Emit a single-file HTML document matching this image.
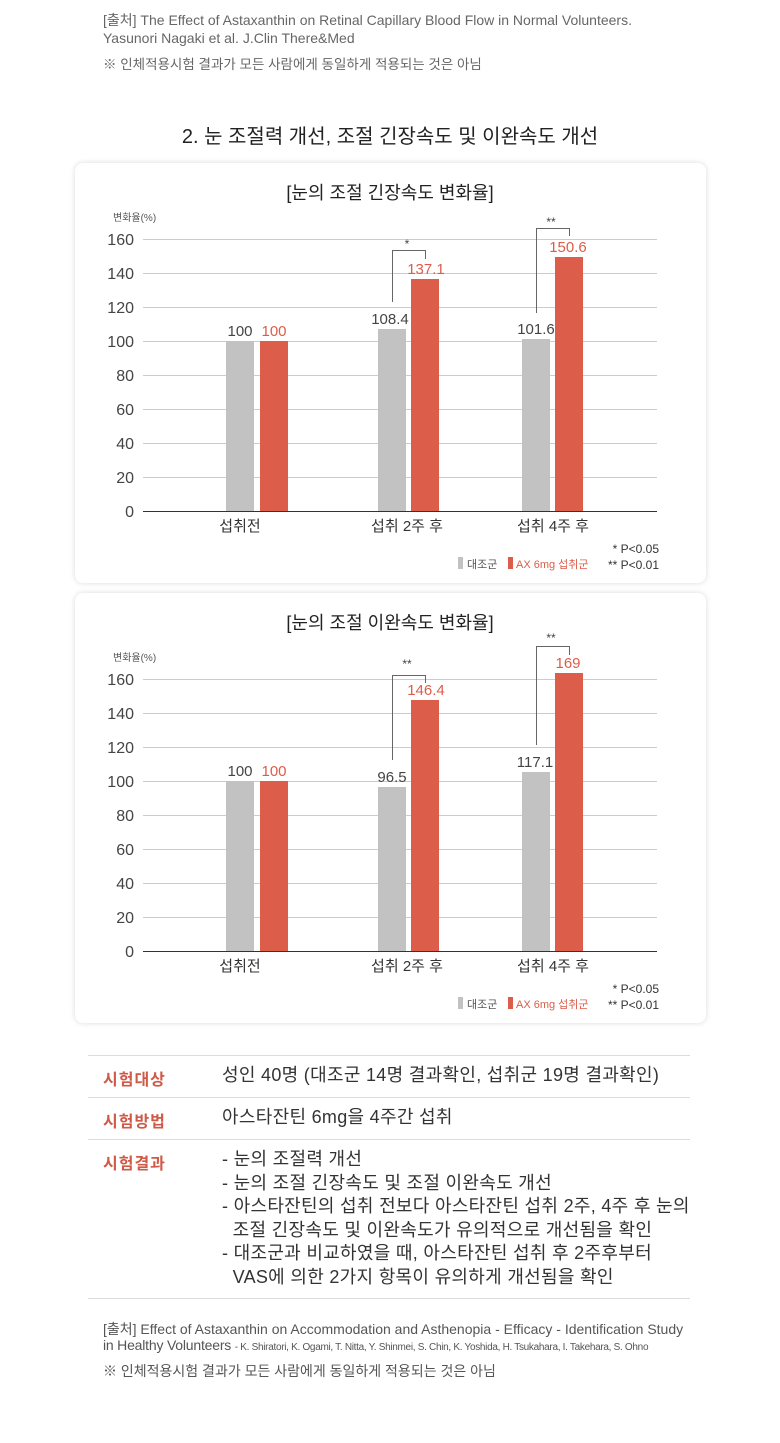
<!DOCTYPE html>
<html><head><meta charset="utf-8"><style>
body{margin:0;background:#fff;width:780px;height:1443px;position:relative;overflow:hidden;font-family:"Liberation Sans","Noto Sans CJK KR",sans-serif;color:#333}
.a{position:absolute;white-space:nowrap}
.card{position:absolute;left:75px;width:631px;background:#fff;border-radius:8px;box-shadow:0 0 6px rgba(0,0,0,0.15)}
.lbl{position:absolute;left:103px;color:#cf5a48;font-size:16px;font-weight:bold;letter-spacing:1px}
.val{position:absolute;left:222px;font-size:18px;letter-spacing:0.3px;color:#333;line-height:23.5px}
.hr{position:absolute;left:88px;width:602px;height:1px;background:#ddd}
</style></head><body>
<div class="a" style="left:103px;top:11px;font-size:14px;color:#666;line-height:18px">[출처] The Effect of Astaxanthin on Retinal Capillary Blood Flow in Normal Volunteers.<br>Yasunori Nagaki et al. J.Clin There&amp;Med</div>
<div class="a" style="left:103px;top:53px;font-size:13.5px;color:#666">※ 인체적용시험 결과가 모든 사람에게 동일하게 적용되는 것은 아님</div>
<div class="a" style="left:0;width:780px;text-align:center;top:120px;font-size:20px;color:#222">2. 눈 조절력 개선, 조절 긴장속도 및 이완속도 개선</div>

<div class="card" style="top:163px;height:420px"></div>
<div class="card" style="top:593px;height:430px"></div>

<svg class="a" style="left:0;top:0" width="780" height="1040" font-family="Liberation Sans, Noto Sans CJK KR, sans-serif">
<g id="c1">
<text x="390" y="199" text-anchor="middle" font-size="18" fill="#222">[눈의 조절 긴장속도 변화율]</text>
<text x="113" y="221" font-size="10" fill="#555">변화율(%)</text>
<g stroke="#ccc" stroke-width="1">
<line x1="143" x2="657" y1="239.5" y2="239.5"/><line x1="143" x2="657" y1="273.5" y2="273.5"/><line x1="143" x2="657" y1="307.5" y2="307.5"/><line x1="143" x2="657" y1="341.5" y2="341.5"/><line x1="143" x2="657" y1="375.5" y2="375.5"/><line x1="143" x2="657" y1="409.5" y2="409.5"/><line x1="143" x2="657" y1="443.5" y2="443.5"/><line x1="143" x2="657" y1="477.5" y2="477.5"/></g>
<g font-size="16" fill="#444" text-anchor="end"><text x="134" y="245">160</text><text x="134" y="279">140</text><text x="134" y="313">120</text><text x="134" y="347">100</text><text x="134" y="381">80</text><text x="134" y="415">60</text><text x="134" y="449">40</text><text x="134" y="483">20</text><text x="134" y="517">0</text></g>
<rect x="226" y="341" width="28" height="170" fill="#c2c2c2"/><rect x="260" y="341" width="28" height="170" fill="#dc5d49"/>
<rect x="378" y="329" width="28" height="182" fill="#c2c2c2"/><rect x="411" y="279" width="28" height="232" fill="#dc5d49"/>
<rect x="522" y="339" width="28" height="172" fill="#c2c2c2"/><rect x="555" y="257" width="28" height="254" fill="#dc5d49"/>
<line x1="143" x2="657" y1="511.5" y2="511.5" stroke="#333"/>
<g font-size="15"><text x="240" y="336" text-anchor="middle" fill="#444">100</text><text x="274" y="336" text-anchor="middle" fill="#dc5d49">100</text>
<text x="390" y="324" text-anchor="middle" fill="#444">108.4</text><text x="426" y="274" text-anchor="middle" fill="#dc5d49">137.1</text>
<text x="536" y="334" text-anchor="middle" fill="#444">101.6</text><text x="568" y="252" text-anchor="middle" fill="#dc5d49">150.6</text></g>
<polyline points="392.5,302 392.5,250.5 425.5,250.5 425.5,259" fill="none" stroke="#666"/>
<polyline points="536.5,313 536.5,228.5 569.5,228.5 569.5,236" fill="none" stroke="#666"/>
<text x="407" y="248" text-anchor="middle" font-size="12" fill="#444">*</text><text x="551" y="226" text-anchor="middle" font-size="12" fill="#444">**</text>
<g font-size="15" fill="#333" text-anchor="middle"><text x="240" y="531">섭취전</text><text x="407" y="531">섭취 2주 후</text><text x="553" y="531">섭취 4주 후</text></g>
<rect x="458" y="557" width="5" height="12" fill="#c2c2c2"/><text x="467" y="568" font-size="11" fill="#555">대조군</text>
<rect x="508" y="557" width="5" height="12" fill="#dc5d49"/><text x="516" y="568" font-size="11" fill="#dc5d49">AX 6mg 섭취군</text>
<text x="659" y="553" text-anchor="end" font-size="12" fill="#333">* P&lt;0.05</text><text x="659" y="569" text-anchor="end" font-size="12" fill="#333">** P&lt;0.01</text>
</g>
<g>
<text x="390" y="629" text-anchor="middle" font-size="18" fill="#222">[눈의 조절 이완속도 변화율]</text>
<text x="113" y="661" font-size="10" fill="#555">변화율(%)</text>
<g stroke="#ccc" stroke-width="1">
<line x1="143" x2="657" y1="679.5" y2="679.5"/><line x1="143" x2="657" y1="713.5" y2="713.5"/><line x1="143" x2="657" y1="747.5" y2="747.5"/><line x1="143" x2="657" y1="781.5" y2="781.5"/><line x1="143" x2="657" y1="815.5" y2="815.5"/><line x1="143" x2="657" y1="849.5" y2="849.5"/><line x1="143" x2="657" y1="883.5" y2="883.5"/><line x1="143" x2="657" y1="917.5" y2="917.5"/></g>
<g font-size="16" fill="#444" text-anchor="end"><text x="134" y="685">160</text><text x="134" y="719">140</text><text x="134" y="753">120</text><text x="134" y="787">100</text><text x="134" y="821">80</text><text x="134" y="855">60</text><text x="134" y="889">40</text><text x="134" y="923">20</text><text x="134" y="957">0</text></g>
<rect x="226" y="781" width="28" height="170" fill="#c2c2c2"/><rect x="260" y="781" width="28" height="170" fill="#dc5d49"/>
<rect x="378" y="787" width="28" height="164" fill="#c2c2c2"/><rect x="411" y="700" width="28" height="251" fill="#dc5d49"/>
<rect x="522" y="772" width="28" height="179" fill="#c2c2c2"/><rect x="555" y="673" width="28" height="278" fill="#dc5d49"/>
<line x1="143" x2="657" y1="951.5" y2="951.5" stroke="#333"/>
<g font-size="15"><text x="240" y="776" text-anchor="middle" fill="#444">100</text><text x="274" y="776" text-anchor="middle" fill="#dc5d49">100</text>
<text x="392" y="782" text-anchor="middle" fill="#444">96.5</text><text x="426" y="695" text-anchor="middle" fill="#dc5d49">146.4</text>
<text x="535" y="767" text-anchor="middle" fill="#444">117.1</text><text x="568" y="668" text-anchor="middle" fill="#dc5d49">169</text></g>
<polyline points="392.5,760 392.5,675.5 425.5,675.5 425.5,683" fill="none" stroke="#666"/>
<polyline points="536.5,745 536.5,646.5 569.5,646.5 569.5,655" fill="none" stroke="#666"/>
<text x="407" y="668" text-anchor="middle" font-size="12" fill="#444">**</text><text x="551" y="642" text-anchor="middle" font-size="12" fill="#444">**</text>
<g font-size="15" fill="#333" text-anchor="middle"><text x="240" y="971">섭취전</text><text x="407" y="971">섭취 2주 후</text><text x="553" y="971">섭취 4주 후</text></g>
<rect x="458" y="997" width="5" height="12" fill="#c2c2c2"/><text x="467" y="1008" font-size="11" fill="#555">대조군</text>
<rect x="508" y="997" width="5" height="12" fill="#dc5d49"/><text x="516" y="1008" font-size="11" fill="#dc5d49">AX 6mg 섭취군</text>
<text x="659" y="993" text-anchor="end" font-size="12" fill="#333">* P&lt;0.05</text><text x="659" y="1009" text-anchor="end" font-size="12" fill="#333">** P&lt;0.01</text>
</g>
</svg>

<div class="hr" style="top:1055px"></div>
<div class="hr" style="top:1097px"></div>
<div class="hr" style="top:1139px"></div>
<div class="hr" style="top:1298px"></div>
<div class="lbl" style="top:1066px">시험대상</div>
<div class="val" style="top:1064px">성인 40명 (대조군 14명 결과확인, 섭취군 19명 결과확인)</div>
<div class="lbl" style="top:1108px">시험방법</div>
<div class="val" style="top:1106px">아스타잔틴 6mg을 4주간 섭취</div>
<div class="lbl" style="top:1150px">시험결과</div>
<div class="val" style="top:1148px;white-space:nowrap">- 눈의 조절력 개선<br>- 눈의 조절 긴장속도 및 조절 이완속도 개선<br>- 아스타잔틴의 섭취 전보다 아스타잔틴 섭취 2주, 4주 후 눈의<br>&nbsp;&nbsp;조절 긴장속도 및 이완속도가 유의적으로 개선됨을 확인<br>- 대조군과 비교하였을 때, 아스타잔틴 섭취 후 2주후부터<br>&nbsp;&nbsp;VAS에 의한 2가지 항목이 유의하게 개선됨을 확인</div>
<div class="a" style="left:103px;top:1319px;font-size:14px;color:#555">[출처] Effect of Astaxanthin on Accommodation and Asthenopia - Efficacy - Identification Study</div>
<div class="a" style="left:103px;top:1337px;font-size:14px;color:#555;letter-spacing:-0.2px">in Healthy Volunteers <span style="font-size:10px;letter-spacing:-0.3px">- K. Shiratori, K. Ogami, T. Nitta, Y. Shinmei, S. Chin, K. Yoshida, H. Tsukahara, I. Takehara, S. Ohno</span></div>
<div class="a" style="left:103px;top:1361px;font-size:14px;color:#555">※ 인체적용시험 결과가 모든 사람에게 동일하게 적용되는 것은 아님</div>
</body></html>
